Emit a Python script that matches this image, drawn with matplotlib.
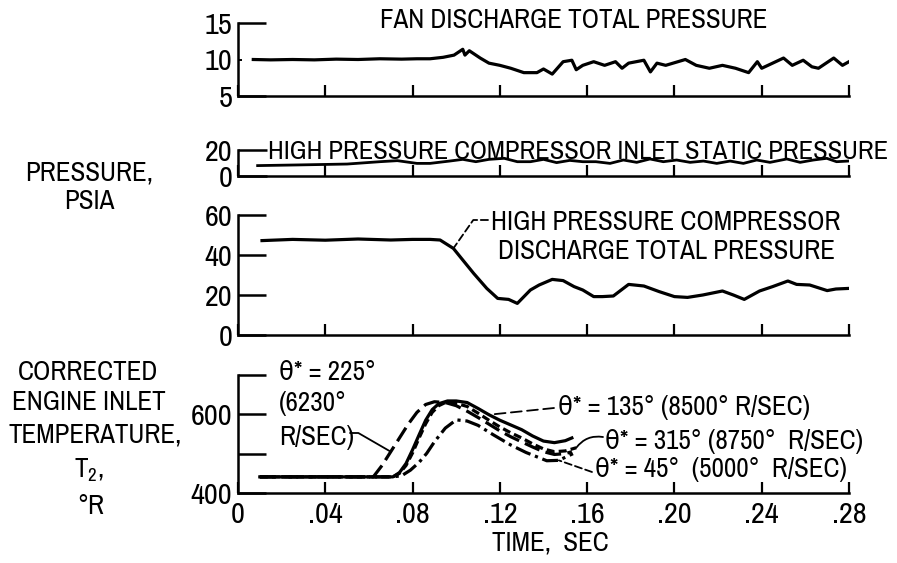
import matplotlib
matplotlib.use("Agg")
import matplotlib.pyplot as plt
from matplotlib import font_manager as fm
from matplotlib.ticker import FixedLocator, FixedFormatter, NullFormatter

# Tipografía estrecha si existe alguna instalada; si no, Liberation Sans
narrow = sorted(
    {(f.name, f.stretch) for f in fm.fontManager.ttflist
     if ("Narrow" in f.name or "Condensed" in f.name
         or f.stretch in ("condensed", "semi-condensed"))
     and f.style == "normal" and f.weight in (400, "normal", "regular")}
)
if narrow:
    FAMILY, STRETCH = narrow[0]
else:
    FAMILY, STRETCH = "Liberation Sans", "normal"

plt.rcParams["font.family"] = [FAMILY, "DejaVu Sans"]
plt.rcParams["font.stretch"] = STRETCH
plt.rcParams["mathtext.fontset"] = "custom"
plt.rcParams["mathtext.rm"] = FAMILY

# ---------------------------------------------------------------
# Datos leídos de los registros (tiempo en s)
# ---------------------------------------------------------------
# Presión total de descarga del fan, psia
t_fan = [0.007, 0.015, 0.025, 0.035, 0.045, 0.055, 0.065, 0.075, 0.082, 0.088,
         0.094, 0.099, 0.103, 0.104, 0.106, 0.111, 0.115, 0.120, 0.125, 0.131,
         0.137, 0.140, 0.144, 0.149, 0.153, 0.155, 0.158, 0.163, 0.168, 0.173,
         0.176, 0.179, 0.186, 0.189, 0.192, 0.196, 0.205, 0.210, 0.216, 0.222,
         0.228, 0.234, 0.238, 0.240, 0.245, 0.250, 0.254, 0.259, 0.263, 0.266,
         0.273, 0.277, 0.280]
p_fan = [10.0, 9.95, 10.0, 9.95, 10.05, 10.0, 10.1, 10.05, 10.1, 10.1,
         10.3, 10.6, 11.4, 10.6, 11.2, 10.2, 9.5, 9.2, 8.8, 8.2,
         8.2, 8.7, 8.0, 9.7, 9.9, 8.6, 9.2, 9.7, 9.2, 9.7,
         8.8, 9.5, 9.9, 8.3, 9.5, 9.2, 10.0, 9.2, 8.8, 9.2,
         8.8, 8.2, 9.7, 8.8, 9.5, 10.2, 9.2, 9.9, 9.0, 8.8,
         10.2, 9.2, 9.7]

# Presión estática de entrada al compresor de alta, psia
t_hpci = [0.009, 0.027, 0.050, 0.065, 0.073, 0.082, 0.088, 0.097, 0.103, 0.109,
          0.115, 0.122, 0.128, 0.134, 0.140, 0.146, 0.152, 0.158, 0.164, 0.1705,
          0.1766, 0.1827, 0.1888, 0.1949, 0.2010, 0.2072, 0.2133, 0.2194, 0.2255,
          0.2316, 0.2377, 0.2438, 0.2515, 0.2576, 0.2637, 0.2698, 0.2743, 0.2797]
p_hpci = [8.0, 8.5, 9.2, 11.0, 11.8, 9.7, 9.7, 11.5, 12.8, 11.0,
          12.8, 13.6, 11.0, 11.0, 12.8, 10.3, 12.0, 11.0, 11.0, 9.7,
          12.3, 10.5, 13.1, 11.0, 12.3, 10.5, 11.5, 9.7, 11.5,
          9.7, 12.3, 10.5, 13.1, 10.5, 12.3, 13.6, 11.0, 11.5]

# Presión total de descarga del compresor de alta, psia
t_hpcd = [0.011, 0.025, 0.040, 0.055, 0.070, 0.080, 0.088, 0.0926, 0.0987, 0.103,
          0.108, 0.114, 0.119, 0.124, 0.128, 0.134, 0.138, 0.144, 0.149, 0.154,
          0.158, 0.163, 0.167, 0.172, 0.179, 0.186, 0.193, 0.200, 0.206, 0.213,
          0.222, 0.227, 0.232, 0.239, 0.245, 0.252, 0.256, 0.262, 0.270, 0.274,
          0.280]
p_hpcd = [47.2, 47.8, 47.4, 48.0, 47.5, 47.8, 47.8, 47.5, 43.3, 37.5,
          30.8, 23.3, 18.3, 17.8, 15.8, 22.5, 25.0, 27.8, 27.2, 24.2,
          22.5, 19.2, 19.2, 19.5, 25.3, 24.5, 21.7, 19.2, 18.8, 20.0,
          22.0, 20.0, 17.8, 22.0, 24.2, 27.0, 25.3, 25.0, 22.2, 23.0,
          23.3]

# Temperatura corregida de entrada al motor T2, °R, para cada theta*
t_225 = [0.010, 0.062, 0.066, 0.070, 0.074, 0.078, 0.082, 0.086, 0.090, 0.095,
         0.100, 0.105, 0.110, 0.115, 0.120, 0.125, 0.130, 0.135, 0.140, 0.145,
         0.150, 0.153]
T_225 = [441, 441, 470, 505, 540, 575, 605, 625, 632, 630,
         622, 608, 592, 575, 558, 543, 530, 517, 505, 498,
         500, 505]

t_135 = [0.010, 0.071, 0.074, 0.077, 0.080, 0.083, 0.086, 0.089, 0.092, 0.096,
         0.100, 0.105, 0.110, 0.115, 0.120, 0.125, 0.130, 0.135, 0.140, 0.145,
         0.150, 0.153]
T_135 = [441, 441, 452, 475, 510, 548, 585, 612, 627, 634,
         634, 630, 615, 599, 585, 573, 561, 545, 532, 528,
         533, 540]

t_315 = [0.010, 0.071, 0.074, 0.077, 0.080, 0.083, 0.086, 0.089, 0.092, 0.095,
         0.100, 0.105, 0.110, 0.115, 0.120, 0.125, 0.130, 0.135, 0.140, 0.145,
         0.150, 0.155]
T_315 = [441, 441, 450, 470, 502, 540, 576, 605, 622, 630,
         628, 620, 603, 585, 568, 553, 540, 525, 512, 505,
         507, 515]

t_45 = [0.010, 0.071, 0.075, 0.079, 0.083, 0.0865, 0.090, 0.095, 0.100, 0.105,
        0.110, 0.117, 0.125, 0.132, 0.1415, 0.147, 0.1535]
T_45 = [441, 441, 444, 458, 478, 501, 530, 565, 586, 583,
        572, 548, 522, 503, 482, 483, 500]

x_ticks = [0, 0.04, 0.08, 0.12, 0.16, 0.20, 0.24, 0.28]
x_labels = ["0", ".04", ".08", ".12", ".16", ".20", ".24", ".28"]

# ---------------------------------------------------------------
# Figura: 4 paneles apilados con eje de tiempo común
# ---------------------------------------------------------------
W, H = 897, 563
fig = plt.figure(figsize=(W / 100, H / 100), dpi=100)


def rect(top, bottom):
    """Rectángulo de ejes a partir de coordenadas en píxeles (origen arriba)."""
    return [238 / W, 1 - bottom / H, 611 / W, (bottom - top) / H]


def fpx(x, y):
    return x / W, 1 - y / H


texts = []


def label(x, y, s, ha="center"):
    t = fig.text(*fpx(x, y), s, fontsize=20, ha=ha, va="center")
    texts.append(t)
    return t


ax_fan = fig.add_axes(rect(23, 96))
ax_hpci = fig.add_axes(rect(150, 176))
ax_hpcd = fig.add_axes(rect(215, 335))
ax_t2 = fig.add_axes(rect(375, 493))
axes = (ax_fan, ax_hpci, ax_hpcd, ax_t2)

LW = 2.3

for ax in axes:
    ax.set_xlim(0, 0.28)
    ax.spines["top"].set_visible(False)
    ax.spines["right"].set_visible(False)
    for s in ("left", "bottom"):
        ax.spines[s].set_linewidth(1.8)
    ax.set_xticks(x_ticks)
    ax.xaxis.set_major_formatter(NullFormatter())
    ax.tick_params(axis="x", direction="in", length=8, width=1.6)
    ax.tick_params(axis="y", direction="in", length=20, width=1.8, pad=4)
    ax.patch.set_alpha(0)

# Panel 1: fan
ax_fan.plot(t_fan, p_fan, color="black", lw=LW)
ax_fan.set_ylim(5, 15)
ax_fan.set_yticks([5, 15])
ax_fan.yaxis.set_minor_locator(FixedLocator([10]))
ax_fan.yaxis.set_minor_formatter(FixedFormatter(["10"]))
ax_fan.tick_params(axis="y", which="minor", direction="in", length=3,
                   width=1.4, pad=4)
title_fan = label(574, 20, "FAN DISCHARGE TOTAL PRESSURE")

# Panel 2: entrada compresor de alta
ax_hpci.plot(t_hpci, p_hpci, color="black", lw=2.0)
ax_hpci.set_ylim(0, 20)
ax_hpci.set_yticks([0, 20])
ax_hpci.tick_params(axis="y", length=21)
title_hpci = label(268, 152, "HIGH PRESSURE COMPRESSOR INLET STATIC PRESSURE",
                   ha="left")

# Panel 3: descarga compresor de alta
ax_hpcd.plot(t_hpcd, p_hpcd, color="black", lw=LW)
ax_hpcd.set_ylim(0, 60)
ax_hpcd.set_yticks([0, 20, 40, 60])
label(666, 222, "HIGH PRESSURE COMPRESSOR")
label(666, 252, "DISCHARGE TOTAL PRESSURE")
ax_hpcd.annotate("", xy=(t_hpcd[8], p_hpcd[8]), xytext=fpx(488, 220),
                 textcoords="figure fraction",
                 arrowprops=dict(arrowstyle="-", lw=1.3, linestyle=(0, (4, 2)),
                                 shrinkA=0, shrinkB=0,
                                 connectionstyle="angle,angleA=0,angleB=55,rad=0"))

# Panel 4: temperatura de entrada
ax_t2.plot(t_225, T_225, color="black", lw=LW, linestyle=(0, (5, 2)))
ax_t2.plot(t_135, T_135, color="black", lw=LW)
ax_t2.plot(t_315, T_315, color="black", lw=LW, linestyle=(0, (2.5, 1.3)))
ax_t2.plot(t_45, T_45, color="black", lw=LW, linestyle=(0, (5, 1.5, 1, 1.5)))
ax_t2.set_ylim(400, 700)
ax_t2.set_yticks([400, 500, 600, 700])
ax_t2.set_yticklabels(["400", "", "600", ""])
ax_t2.xaxis.set_major_formatter(FixedFormatter(x_labels))
ax_t2.tick_params(axis="x", pad=6)

label(279, 372, "θ* = 225°", ha="left")
label(279, 403, "(6230°", ha="left")
label(279, 437, "R/SEC)", ha="left")
label(558, 407, "θ* = 135° (8500° R/SEC)", ha="left")
label(605, 442, "θ* = 315° (8750°  R/SEC)", ha="left")
label(595, 470, "θ* = 45°  (5000°  R/SEC)", ha="left")

leader = dict(arrowstyle="-", lw=1.3, shrinkA=0, shrinkB=0)
ax_t2.annotate("", xy=(t_225[3], T_225[3]), xytext=fpx(350, 433),
               textcoords="figure fraction",
               arrowprops=dict(leader, connectionstyle="angle,angleA=0,angleB=-30,rad=0"))
ax_t2.annotate("", xy=(t_135[13], T_135[13]), xytext=fpx(554, 408),
               textcoords="figure fraction",
               arrowprops=dict(leader, linestyle=(0, (6, 3))))
ax_t2.annotate("", xy=(t_315[-1], T_315[-1]), xytext=fpx(603, 437),
               textcoords="figure fraction",
               arrowprops=dict(leader, connectionstyle="arc3,rad=0.3"))
ax_t2.annotate("", xy=(t_45[-2], T_45[-2]), xytext=fpx(592, 472),
               textcoords="figure fraction",
               arrowprops=dict(leader, linestyle=(0, (4, 2))))

label(550, 543, "TIME,  SEC")

# Etiquetas del eje vertical
label(89, 173, "PRESSURE,")
label(89, 202, "PSIA")
label(88, 372, "CORRECTED")
label(89, 403, "ENGINE INLET")
label(95, 435, "TEMPERATURE,")
label(89, 470, r"$\mathregular{T_2}$,")
label(91, 506, "°R")

# Un solo tamaño de letra, a partir del ancho del título del fan (~378 px);
# el rótulo largo del panel 2 no debe pasar de ~622 px
renderer = fig.canvas.get_renderer()
fs = 1.03 * 20 * 378 / title_fan.get_window_extent(renderer).width
fs_long = 20 * 622 / title_hpci.get_window_extent(renderer).width
for t in texts:
    t.set_fontsize(fs)
title_hpci.set_fontsize(min(fs, fs_long))
for ax in axes:
    ax.tick_params(axis="both", which="both", labelsize=fs * 1.12)

fig.savefig("out.png", dpi=100)
